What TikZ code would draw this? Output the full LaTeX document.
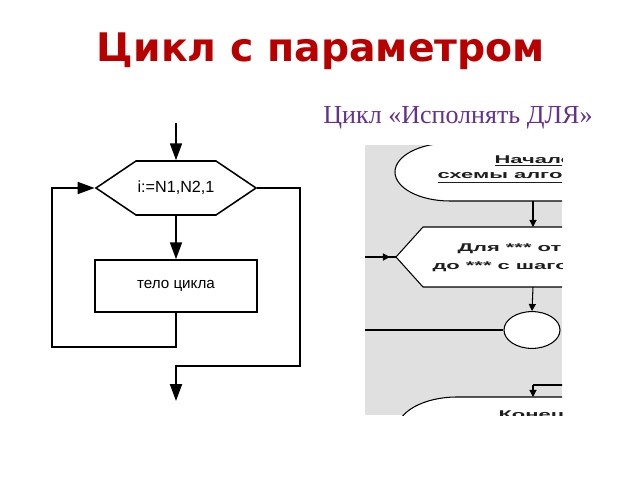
\documentclass[tikz,border=0pt]{standalone}
\usepackage{fontspec}
\setmainfont{Liberation Sans}
\newfontfamily\titlefont{DejaVu Sans}
\newfontfamily\subtitlefont{Liberation Serif}
\usetikzlibrary{arrows.meta,shapes.symbols,shapes.geometric}
\definecolor{titlered}{RGB}{185,0,0}
\definecolor{subpurple}{RGB}{100,50,140}
\definecolor{scangray}{RGB}{224,224,224}
\definecolor{scantext}{RGB}{30,30,30}

\begin{document}
\begin{tikzpicture}[
    x=0.025cm, y=-0.025cm,
    hexnode/.style={signal, signal to=west and east, signal pointer angle=68, draw=black, line width=1.1pt,
      minimum width=4cm, minimum height=1.35cm, inner sep=0pt, font=\fontsize{11.5}{13}\selectfont},
    boxnode/.style={rectangle, draw=black, line width=1.1pt, minimum width=4.05cm, minimum height=1.3cm,
      font=\fontsize{10.8}{12}\selectfont},
    flowline/.style={line width=1.3pt},
    farrow/.style={flowline, -{Triangle[length=12pt,width=8.5pt]}},
    scanline/.style={line width=0.75pt, draw=black},
    sarrow/.style={scanline, -{Triangle[length=5pt,width=5pt]}},
    scantxt/.style={anchor=base west, inner sep=0pt, xscale=1.95, text=scantext,
      font=\fontsize{8}{9}\selectfont\bfseries}
  ]
  \useasboundingbox (0,0) rectangle (640,480);
  % заголовки
  \node[anchor=base, text=titlered, font=\titlefont\fontsize{28}{32}\selectfont\bfseries] (title) at (321,62) {Цикл с параметром};
  \node[anchor=base, text=subpurple, font=\subtitlefont\fontsize{18.5}{22}\selectfont] (subtitle) at (458,123) {Цикл «Исполнять ДЛЯ»};
  % блок-схема слева
  \coordinate (in) at (176,123);
  \node[hexnode] (cond) at (176,188) {i:=N1,N2,1};
  \node[boxnode] (body) at (176,286) {тело цикла};
  \coordinate (loopl) at (52,347);
  \coordinate (exitr) at (300,366);
  \coordinate (out) at (176,401);
  \draw[farrow] (in) -- (cond.north);
  \draw[farrow] (cond.south) -- (body.north);
  \draw[farrow] (body.south) |- (loopl) |- (cond.west);
  \draw[farrow] (cond.east) -| (exitr) -| (out);
  % фрагмент схемы справа (обрезан)
  \begin{scope}
    \clip (365,145) rectangle (562,415);
    \fill[scangray] (365,145) rectangle (562,415);
    \filldraw[scanline, fill=white] (600,143) -- (450,143)
      arc[start angle=270, end angle=90, x radius=55, y radius=29] -- (600,201);
    \node[scantxt] (start1) at (494,163) {\underline{Начало}};
    \node[scantxt] (start2) at (437,178) {\underline{схемы алгоритма}};
    \coordinate (startb) at (533,201);
    \coordinate (hextop) at (533,227);
    \draw[sarrow] (startb) -- (hextop);
    \filldraw[scanline, fill=white] (600,227) -- (423,227) -- (396,257) -- (423,287) -- (600,287);
    \node[scantxt] (for1) at (457,251) {Для *** от ***};
    \node[scantxt] (for2) at (432,269) {до *** с шагом ***};
    \coordinate (inl) at (365,257);
    \coordinate (hextip) at (390,257);
    \coordinate (hexw) at (396,257);
    \coordinate (hexbot) at (533,287);
    \draw[scanline] (inl) -- (hexw);
    \draw[sarrow] (inl) -- (hextip);
    \node[ellipse, scanline, fill=white, minimum width=1.4cm, minimum height=0.92cm, inner sep=0pt] (join) at (532,330) {};
    \draw[sarrow] (hexbot) -- (join.north);
    \coordinate (joinl) at (365,330);
    \draw[scanline] (joinl) -- (join.west);
    \coordinate (backr) at (570,385);
    \coordinate (backc) at (533,385);
    \coordinate (endtop) at (533,397);
    \draw[scanline] (backr) -- (backc);
    \draw[sarrow] (backc) -- (endtop);
    \filldraw[scanline, fill=white] (600,397) -- (457,397)
      arc[start angle=270, end angle=180, x radius=60, y radius=33] -- (600,430) -- cycle;
    \node[scantxt] (finish) at (498,418) {Конец};
  \end{scope}
\end{tikzpicture}
\end{document}
